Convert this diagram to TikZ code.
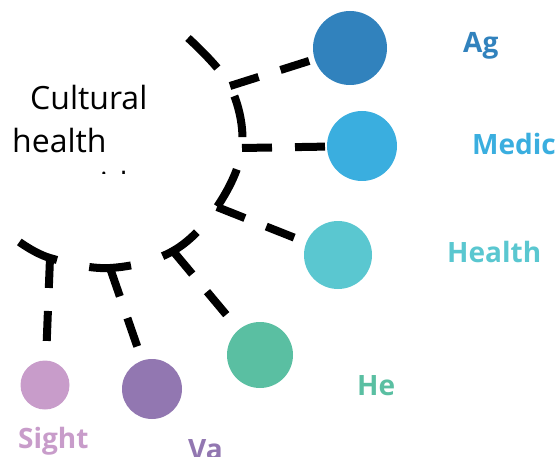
\documentclass[tikz,border=0pt]{standalone}
\usepackage{fontspec}
\setmainfont{Open Sans}
\definecolor{agblue}{HTML}{3182BD}
\definecolor{medblue}{HTML}{3AAEDF}
\definecolor{healthcyan}{HTML}{5AC7D0}
\definecolor{hegreen}{HTML}{5ABFA2}
\definecolor{vapurple}{HTML}{9277B1}
\definecolor{sightpink}{HTML}{C89CCA}
\begin{document}
\begin{tikzpicture}[x=1pt,y=-1pt,
    leaf/.style={circle,inner sep=0pt,minimum size=#1},
    lbl/.style={anchor=base west,inner sep=0pt,font=\fontsize{28}{34}\selectfont\bfseries},
    link/.style={line width=8pt,dash pattern=on 30pt off 23pt}]
  \useasboundingbox (0,0) rectangle (559,457);
  \clip (0,0) rectangle (559,457);
  % root text
  \node[anchor=base west,inner sep=0pt,font=\fontsize{32}{38}\selectfont] (root1) at (30,110) {Cultural};
  \node[anchor=base west,inner sep=0pt,font=\fontsize{32}{38}\selectfont] (root2) at (12,153) {health};
  \begin{scope}
    \clip (0,0) rectangle (200,174); % third line cut off
    \node[anchor=base west,inner sep=0pt,font=\fontsize{32}{38}\selectfont] (root3) at (33,196) {provider};
  \end{scope}
  % junctions on the arc
  \coordinate (top) at (188,38);
  \coordinate (jag) at (230,86);
  \coordinate (jmed) at (242,148);
  \coordinate (jhealth) at (217,207);
  \coordinate (jhe) at (173,251);
  \coordinate (jva) at (110,268);
  \coordinate (jsight) at (50,258);
  \coordinate (bot) at (18,241);
  % leaves
  \node[leaf=74pt,fill=agblue] (ag) at (350,48) {};
  \node[leaf=70pt,fill=medblue] (med) at (362,146) {};
  \node[leaf=68pt,fill=healthcyan] (health) at (338,255) {};
  \node[leaf=66pt,fill=hegreen] (he) at (260,355) {};
  \node[leaf=60pt,fill=vapurple] (va) at (152,389) {};
  \node[leaf=49pt,fill=sightpink] (sight) at (45,385) {};
  % arc
  \draw[line width=8pt,dash pattern=on 42pt off 33pt] plot[smooth,tension=0.6] coordinates {(top) (jag) (jmed) (jhealth) (jhe) (jva) (jsight) (bot)};
  % branches
  \draw[link] (jag) -- (ag);
  \draw[link] (jmed) -- (med);
  \draw[link] (jhealth) -- (health);
  \draw[link] (jhe) -- (he);
  \draw[link] (jva) -- (va);
  \draw[link] (jsight) -- (sight);
  % labels
  \node[lbl,text=agblue] (agl) at (463,53) {Ag};
  \node[lbl,text=medblue] (medl) at (472,155) {Medic};
  \node[lbl,text=healthcyan] (healthl) at (447,262) {Health};
  \node[lbl,text=hegreen] (hel) at (357,395) {He};
  \node[lbl,text=vapurple] (val) at (188,459) {Va};
  \node[lbl,text=sightpink] (sightl) at (18,448) {Sight};
\end{tikzpicture}
\end{document}
